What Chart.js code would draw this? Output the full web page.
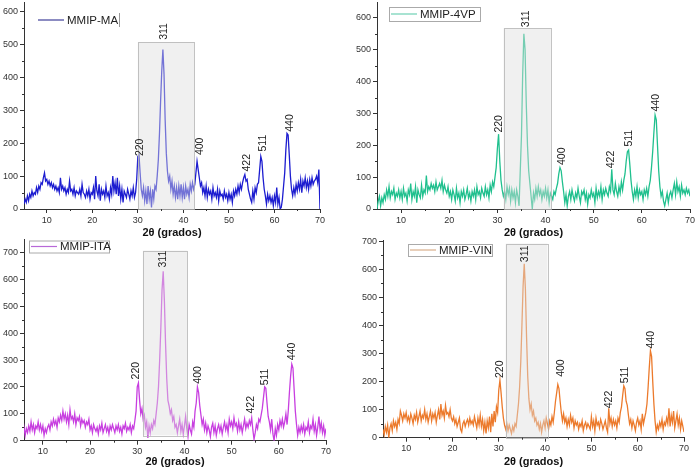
<!DOCTYPE html>
<html>
<head>
<meta charset="utf-8">
<script src="https://cdn.jsdelivr.net/npm/chart.js@4.4.1/dist/chart.umd.min.js"></script>
<style>
  html, body { margin: 0; padding: 0; background: #fff; }
  body { width: 696px; height: 469px; position: relative; overflow: hidden; }
  .panel { position: absolute; }
</style>
</head>
<body>
<div class="panel" style="left:0;top:0;width:348px;height:240px"><canvas id="c1"></canvas></div>
<div class="panel" style="left:348px;top:0;width:348px;height:240px"><canvas id="c2"></canvas></div>
<div class="panel" style="left:0;top:236px;width:348px;height:233px"><canvas id="c3"></canvas></div>
<div class="panel" style="left:348px;top:236px;width:348px;height:233px"><canvas id="c4"></canvas></div>
<script>
// 2theta sampling grid, 5 to 70 degrees every 0.25
const angles = [];
for (let i = 0; i <= 260; i++) angles.push(5 + i * 0.25);

const xTicks = [10, 20, 30, 40, 50, 60, 70];
const yTicks = [0, 100, 200, 300, 400, 500, 600, 700];
const peakLabels = ['220', '311', '400', '422', '511', '440'];

// intensities (one row = 5 degrees)
const intensityMA = [
  15, 30, 20, 40, 25, 45, 35, 55, 40, 50, 45, 65, 50, 70, 60, 80, 75, 95, 110, 85,
  90, 75, 85, 70, 80, 65, 75, 60, 70, 55, 65, 50, 95, 60, 70, 55, 65, 45, 60, 50,
  85, 55, 60, 45, 65, 40, 55, 50, 45, 60, 40, 75, 50, 45, 35, 55, 40, 60, 30, 50,
  45, 65, 30, 100, 55, 40, 75, 25, 60, 45, 55, 35, 70, 40, 50, 30, 65, 45, 100, 55,
  80, 45, 95, 40, 70, 30, 60, 20, 55, 45, 35, 60, 45, 30, 55, 40, 65, 35, 50, 90,
  160, 165, 110, 60, 40, 65, 25, 55, 15, 70, 30, 55, 5, 60, 30, 70, 60, 100, 150, 230,
  330, 420, 485, 410, 270, 170, 115, 85, 100, 60, 85, 45, 70, 35, 65, 30, 70, 40, 75, 35,
  65, 30, 70, 45, 60, 35, 75, 55, 80, 60, 75, 110, 145, 120, 95, 70, 80, 50, 65, 40,
  70, 35, 60, 45, 55, 30, 65, 40, 50, 35, 60, 25, 55, 40, 45, 30, 55, 35, 45, 25,
  50, 30, 45, 20, 55, 40, 60, 45, 70, 50, 75, 60, 80, 95, 105, 85, 90, 60, 45, 30,
  20, 55, 30, 65, 50, 75, 80, 120, 160, 145, 95, 60, 40, 15, 45, 25, 40, 20, 35, 10,
  40, 20, 65, 15, 35, 0, 5, 30, 70, 110, 180, 230, 225, 165, 100, 60, 40, 65, 45, 75,
  55, 80, 60, 90, 50, 85, 70, 95, 65, 85, 60, 90, 70, 95, 75, 85, 90, 100, 80, 120,
  0
];
const intensity4VP = [
  0, 25, 40, 10, 35, 20, 45, 30, 60, 40, 70, 35, 55, 45, 65, 30, 50, 40, 60, 35,
  55, 30, 65, 40, 50, 25, 60, 45, 80, 30, 55, 40, 70, 20, 60, 45, 35, 75, 40, 60,
  50, 105, 55, 70, 60, 80, 65, 75, 55, 85, 60, 70, 80, 65, 90, 55, 75, 60, 50, 70,
  40, 55, 30, 60, 45, 25, 65, 35, 50, 20, 55, 40, 60, 30, 45, 65, 35, 50, 25, 55,
  40, 60, 30, 70, 45, 55, 35, 65, 50, 40, 70, 45, 60, 35, 75, 55, 85, 70, 100, 130,
  190, 235, 150, 90, 60, 40, 55, 30, 70, 45, 65, 25, 60, 35, 55, 20, 60, 40, 10, 120,
  230, 420, 550, 500, 330, 200, 120, 80, 40, 0, 50, 30, 65, 40, 70, 45, 60, 30, 55, 40,
  65, 35, 60, 20, 50, 40, 30, 55, 45, 65, 80, 110, 130, 120, 85, 55, 20, 45, 10, 40,
  55, 30, 60, 40, 25, 50, 35, 65, 40, 20, 55, 45, 60, 30, 50, 15, 45, 35, 60, 40,
  50, 20, 65, 35, 55, 40, 70, 30, 60, 45, 65, 50, 40, 70, 55, 125, 60, 45, 80, 55,
  40, 70, 50, 85, 60, 90, 110, 150, 180, 185, 140, 90, 55, 30, 60, 40, 70, 35, 60, 45,
  55, 30, 60, 45, 65, 40, 70, 90, 130, 180, 240, 295, 280, 200, 120, 70, 40, 55, 25, 10,
  30, 50, 20, 45, 55, 35, 60, 80, 45, 85, 55, 70, 40, 75, 50, 60, 45, 65, 50, 60,
  40
];
const intensityITA = [
  30, 20, 40, 10, 50, 20, 45, 30, 55, 35, 70, 40, 60, 30, 55, 45, 70, 40, 60, 35,
  55, 20, 45, 30, 50, 60, 40, 70, 55, 80, 60, 75, 50, 85, 70, 95, 75, 110, 80, 100,
  70, 95, 60, 115, 80, 90, 70, 100, 60, 85, 75, 90, 55, 80, 65, 75, 50, 70, 60, 80,
  40, 55, 30, 60, 45, 35, 50, 25, 55, 40, 65, 30, 45, 60, 35, 50, 25, 55, 40, 60,
  45, 30, 55, 40, 60, 35, 50, 25, 55, 45, 65, 35, 50, 40, 60, 30, 55, 45, 75, 110,
  200, 215, 150, 100, 120, 80, 95, 50, 70, 10, 55, 30, 60, 45, 75, 60, 100, 140, 200, 300,
  420, 560, 630, 520, 360, 230, 150, 130, 100, 115, 75, 90, 50, 60, 30, 55, 80, 35, 60, 25,
  55, 90, 45, 15, 60, 40, 25, 70, 50, 110, 140, 200, 180, 130, 95, 60, 80, 40, 65, 30,
  55, 40, 15, 50, 65, 30, 55, 20, 45, 60, 35, 55, 25, 50, 70, 40, 60, 30, 80, 55,
  70, 45, 85, 55, 65, 35, 70, 40, 60, 30, 55, 80, 45, 65, 50, 75, 60, 85, 40, 5,
  30, 60, 45, 80, 70, 95, 120, 160, 200, 195, 140, 90, 70, 40, 80, 25, 0, 45, 20, 60,
  40, 75, 55, 80, 50, 70, 100, 60, 110, 180, 240, 285, 270, 190, 110, 60, 20, 50, 30, 55,
  35, 60, 25, 50, 40, 70, 30, 55, 45, 80, 35, 60, 20, 50, 90, 40, 65, 30, 55, 20,
  45
];
const intensityVIN = [
  30, 10, 40, 20, 45, 0, 35, 50, 25, 60, 40, 55, 30, 65, 50, 95, 80, 60, 85, 70,
  90, 60, 75, 55, 85, 70, 50, 80, 65, 90, 55, 75, 95, 60, 80, 70, 100, 65, 85, 55,
  75, 95, 60, 85, 70, 90, 55, 80, 100, 65, 120, 80, 95, 70, 115, 85, 90, 75, 100, 70,
  60, 75, 50, 65, 40, 55, 70, 30, 20, 50, 60, 40, 55, 65, 45, 70, 50, 60, 45, 75,
  55, 35, 70, 45, 80, 40, 65, 25, 55, 15, 60, 35, 75, 20, 85, 40, 95, 55, 110, 90,
  170, 205, 160, 110, 70, 45, 30, 50, 25, 45, 30, 15, 40, 25, 50, 40, 80, 120, 180, 270,
  400, 540, 620, 530, 360, 220, 140, 100, 120, 80, 95, 60, 70, 45, 55, 30, 50, 20, 45, 60,
  35, 70, 50, 30, 60, 45, 75, 55, 90, 130, 160, 190, 175, 130, 90, 60, 85, 55, 70, 40,
  65, 45, 80, 55, 70, 35, 60, 45, 55, 30, 50, 40, 60, 25, 45, 55, 35, 50, 40, 30,
  75, 40, 60, 25, 70, 45, 55, 35, 65, 50, 30, 45, 60, 35, 20, 105, 50, 70, 40, 65,
  45, 60, 35, 70, 55, 90, 110, 150, 185, 175, 130, 115, 80, 50, 65, 35, 60, 45, 25, 55,
  70, 45, 60, 30, 85, 50, 70, 90, 120, 180, 250, 310, 290, 200, 120, 60, 20, 45, 30, 55,
  40, 65, 30, 55, 45, 70, 50, 105, 40, 80, 55, 95, 35, 60, 85, 45, 70, 30, 60, 40,
  20
];

// where each hkl label sits (angle, intensity at the foot of the text)
const peakAngleMA = [30.5, 35.8, 43.6, 54.0, 57.6, 63.4];
const peakHeightMA = [161, 515, 164, 114, 175, 235];
const peakAngle4VP = [30.3, 35.9, 43.5, 53.7, 57.3, 63.0];
const peakHeight4VP = [240, 571, 138, 128, 196, 306];
const peakAngleITA = [29.85, 35.5, 43.0, 54.2, 57.1, 62.9];
const peakHeightITA = [228, 644, 212, 101, 206, 299];
const peakAngleVIN = [30.2, 35.7, 43.5, 53.8, 57.2, 62.9];
const peakHeightVIN = [213, 626, 217, 105, 194, 318];

// shaded 311 window: [from, to, bottom, top]
const bandMA = [30, 42.4, 0, 508];
const band4VP = [31.3, 41.1, 0, 568];
const bandITA = [31.2, 40.6, 20, 707];
const bandVIN = [31.5, 40.5, 0, 692];

Chart.defaults.font.family = '"Liberation Sans", Arial, sans-serif';
Chart.defaults.color = '#333';

const xrdDecor = {
  id: 'xrd',
  afterDatasetsDraw(chart, args, o) {
    const { ctx, chartArea } = chart;
    const x = chart.scales.x, y = chart.scales.y;
    ctx.save();

    // shaded window
    const l = x.getPixelForValue(o.band[0]), r = x.getPixelForValue(o.band[1]);
    const t = y.getPixelForValue(o.band[3]), b = y.getPixelForValue(o.band[2]);
    ctx.fillStyle = 'rgba(222,222,222,0.45)';
    ctx.fillRect(l, t, r - l, b - t);
    ctx.strokeStyle = 'rgba(180,180,180,0.8)';
    ctx.lineWidth = 1;
    ctx.strokeRect(Math.round(l) + 0.5, Math.round(t) + 0.5, Math.round(r - l), Math.round(b - t));

    // hkl labels
    ctx.font = '10.5px "Liberation Sans", Arial, sans-serif';
    ctx.fillStyle = '#222';
    ctx.textAlign = 'left';
    ctx.textBaseline = 'middle';
    o.angles.forEach((a, i) => {
      ctx.save();
      ctx.translate(x.getPixelForValue(a), y.getPixelForValue(o.heights[i]));
      ctx.rotate(-Math.PI / 2);
      ctx.fillText(peakLabels[i], 0, 0);
      ctx.restore();
    });

    // minor ticks
    ctx.strokeStyle = '#333';
    ctx.beginPath();
    for (let v = 50; v < y.max; v += 100) {
      const py = Math.round(y.getPixelForValue(v)) + 0.5;
      ctx.moveTo(chartArea.left - 2, py);
      ctx.lineTo(chartArea.left, py);
    }
    for (let v = 15; v < 70; v += 10) {
      const px = Math.round(x.getPixelForValue(v)) + 0.5;
      ctx.moveTo(px, chartArea.bottom);
      ctx.lineTo(px, chartArea.bottom + 2);
    }
    ctx.stroke();

    // legend
    const lg = o.legend;
    if (lg.box) {
      ctx.fillStyle = 'rgba(255,255,255,0.6)';
      ctx.fillRect(lg.x, lg.y, lg.w, lg.h);
      ctx.strokeStyle = '#aaa';
      ctx.strokeRect(lg.x + 0.5, lg.y + 0.5, lg.w, lg.h);
    } else {
      ctx.strokeStyle = '#999';
      ctx.beginPath();
      ctx.moveTo(lg.x + lg.w + 0.5, lg.y);
      ctx.lineTo(lg.x + lg.w + 0.5, lg.y + lg.h);
      ctx.stroke();
    }
    const my = lg.y + lg.h / 2;
    ctx.strokeStyle = lg.color;
    ctx.lineWidth = 1.2;
    ctx.beginPath();
    ctx.moveTo(lg.x + 2, my);
    ctx.lineTo(lg.x + 28, my);
    ctx.stroke();
    ctx.fillStyle = '#222';
    ctx.font = '11.5px "Liberation Sans", Arial, sans-serif';
    ctx.textAlign = 'left';
    ctx.textBaseline = 'middle';
    ctx.fillText(lg.text, lg.x + 31, my + 0.5);

    ctx.restore();
  }
};

function makePanel(id, p) {
  const points = angles.map((a, i) => ({ x: a, y: p.values[i] }));
  new Chart(document.getElementById(id), {
    type: 'line',
    data: {
      datasets: [{
        label: p.legend.text,
        data: points,
        borderColor: p.color,
        borderWidth: 1.3,
        pointRadius: 0,
        tension: 0
      }]
    },
    options: {
      responsive: true,
      maintainAspectRatio: false,
      animation: false,
      layout: { padding: { top: p.top, right: p.right, left: 0, bottom: 0 } },
      plugins: {
        legend: { display: false },
        tooltip: { enabled: false },
        xrd: {
          band: p.band,
          angles: p.angles,
          heights: p.heights,
          legend: p.legend
        }
      },
      scales: {
        x: {
          type: 'linear',
          min: p.xmin,
          max: 70,
          border: { display: true, color: '#333', width: 1 },
          grid: { drawOnChartArea: false, drawTicks: true, tickLength: 4, tickColor: '#333' },
          ticks: { stepSize: 10, autoSkip: false, maxRotation: 0, padding: p.xpad, font: { size: 9 }, color: '#333' },
          afterBuildTicks: s => { s.ticks = xTicks.map(v => ({ value: v })); },
          afterFit: s => { s.height = p.xh; s.paddingLeft = 0; s.paddingRight = 0; },
          title: {
            display: true,
            text: '2θ (grados)',
            color: '#111',
            font: { size: 11, weight: 'bold' },
            padding: { top: 0, bottom: 0 }
          }
        },
        y: {
          min: 0,
          max: p.ymax,
          border: { display: true, color: '#333', width: 1 },
          grid: { drawOnChartArea: false, drawTicks: true, tickLength: 4, tickColor: '#333' },
          ticks: { padding: 2, font: { size: 9 }, color: '#333' },
          afterBuildTicks: s => { s.ticks = yTicks.filter(v => v <= p.ymax).map(v => ({ value: v })); },
          afterFit: s => { s.width = p.left; s.paddingTop = 0; s.paddingBottom = 0; }
        }
      }
    },
    plugins: [xrdDecor]
  });
}

makePanel('c1', {
  values: intensityMA, color: '#1c1cd0', xmin: 5, ymax: 630,
  left: 24, right: 28, top: 2, xh: 31, xpad: 2,
  band: bandMA, angles: peakAngleMA, heights: peakHeightMA,
  legend: { text: 'MMIP-MA', x: 36, y: 13, w: 83, h: 14, box: false, color: '#40409a' }
});
makePanel('c2', {
  values: intensity4VP, color: '#20c08e', xmin: 5, ymax: 650,
  left: 29, right: 6, top: 2, xh: 31, xpad: 2,
  band: band4VP, angles: peakAngle4VP, heights: peakHeight4VP,
  legend: { text: 'MMIP-4VP', x: 41, y: 7, w: 91, h: 14, box: true, color: '#6fd1b4' }
});
makePanel('c3', {
  values: intensityITA, color: '#c83fe0', xmin: 6, ymax: 750,
  left: 24, right: 22, top: 3, xh: 28.3, xpad: 1,
  band: bandITA, angles: peakAngleITA, heights: peakHeightITA,
  legend: { text: 'MMIP-ITA', x: 29, y: 4.5, w: 80, h: 12, box: true, color: '#b868d8' }
});
makePanel('c4', {
  values: intensityVIN, color: '#ec7a2c', xmin: 5, ymax: 705,
  left: 35, right: 12, top: 4, xh: 31.3, xpad: 1,
  band: bandVIN, angles: peakAngleVIN, heights: peakHeightVIN,
  legend: { text: 'MMIP-VIN', x: 60, y: 8, w: 84, h: 12, box: true, color: '#d9b08c' }
});
</script>
</body>
</html>
